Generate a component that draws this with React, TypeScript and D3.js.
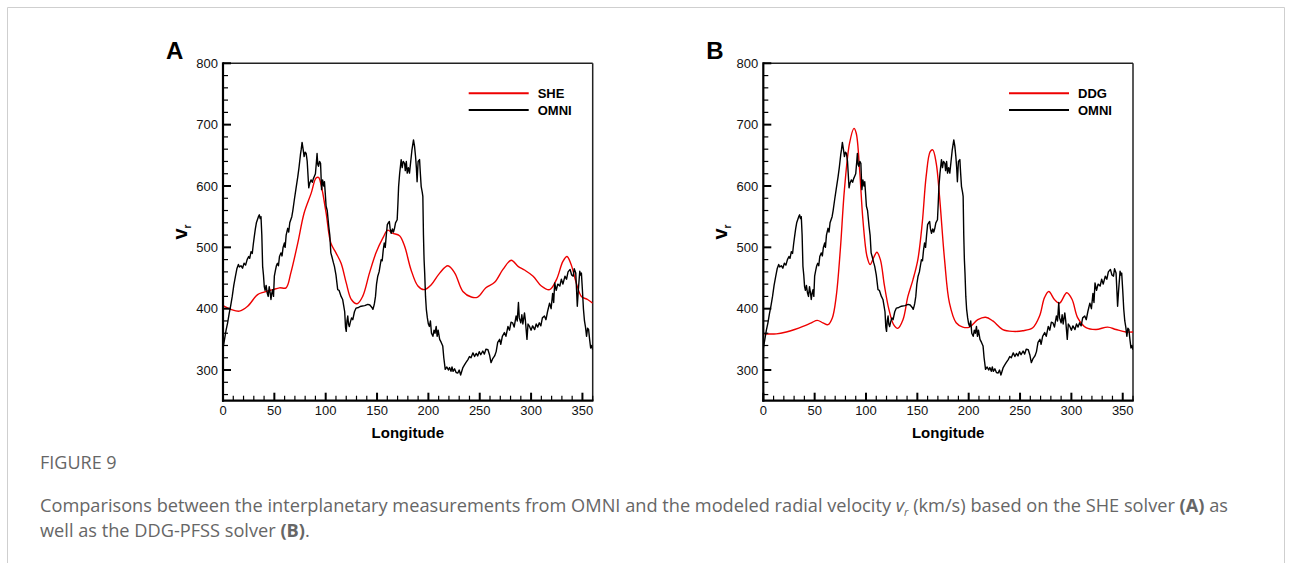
import React from "react";
import * as d3 from "d3";

// ---------------- DATA ----------------
const omniLon = [0,1.5,3,4.5,6,7.5,9,10.5,12,13.5,15,16,17.5,19,20.5,22,23.5,25,26,27.3,28.5,29.5,30.5,31.5,32.5,33.5,34.5,35.4,36.2,37,37.8,38.6,39.4,40.2,41,42,43,44,45,46,46.7,47.5,48.4,49.2,50,51,52,53,54,55,56.5,57.5,58.5,59.8,60.5,61.5,63,64,65,66,67,68,69.5,71,72.8,74,75.4,76.2,77,78,79,80,81,82,83.5,84.5,85.8,87,88,89,90,91,91.6,92.3,93,94,95,96,97,98,98.8,99.5,100.4,101.5,103,104,105,106,107.5,108.5,110,111.7,113,115,116.5,117.6,118.5,119.3,120,120.7,121.5,122.2,123,124,125.2,126.4,128,129.6,132,134.5,138,141,143,145,146,147,147.5,148.5,149.5,150.7,152,153,154,155,156,157,158,159,160,161,162,162.8,163.8,165,166,167,168,169.6,170.3,171,172,173.5,174.5,175.5,176.8,177.5,178.5,179.4,180.5,181.6,182.8,184,185.5,186.5,187.5,188.3,189,190,191.4,192.2,193,194,194.6,195.2,195.8,196.4,197.2,198,199,200,201,202,203,204.4,205.5,206.5,207.6,208.5,209.5,211,212.5,214,215,216.4,218,219.5,220.6,222,223,224,225.5,227,228.7,230,231.4,232.5,233.6,235,236.5,238.5,240,241.5,243.4,245,246.5,248,249.5,251,253,254.5,256,258,259.5,261,262.5,264.5,266,267.5,269.4,270.5,272,274,275.5,277.5,279,280.5,282,283.5,285.4,286.5,287.7,288.5,290,291,292,293.6,294.5,296,297,298.5,300,301.5,303.5,305,306.5,308,309.5,311,313,314.5,316,318,319.5,321,322,323,324.5,326,328,329.5,331,333,334.5,336,338,339.5,341,342,343.5,344.3,345,346,347.4,348.2,349,350,351,352,353,354,355,356,357,358,359,360];
const omniVr = [335,350,365,377,392,405,420,438,452,465,472,468,470,466,474,471,480,485,482,493,490,505,518,530,540,545,550,553,547,550,520,469,455,436,430,438,426,420,436,425,415,425,431,420,453,462,470,474,470,485,491,486,500,507,500,520,531,525,540,545,550,560,578,595,615,630,651,660,671,660,648,655,653,640,597,605,610,606,612,616,620,640,653,635,632,640,637,594,610,600,607,590,567,560,534,520,491,485,475,469,455,431,430,420,415,404,395,370,363,380,388,375,371,378,385,382,395,401,402,404,405,407,406,402,399,405,409,420,440,453,460,470,480,478,495,507,500,520,537,540,542,530,523,530,525,531,540,545,570,599,620,643,630,640,637,625,640,621,630,621,640,659,675,665,648,630,607,640,643,620,599,590,583,520,480,458,420,399,385,375,371,380,360,355,365,360,371,355,365,350,345,339,320,301,305,300,304,298,305,298,302,296,295,300,292,298,304,308,312,317,322,320,328,322,327,323,330,325,331,326,334,333,325,312,318,323,330,345,350,342,355,361,355,371,365,378,377,370,388,380,410,385,377,390,375,393,380,350,375,371,365,372,366,375,370,377,372,385,388,382,395,409,400,425,410,442,430,440,437,448,440,453,448,460,464,455,453,465,458,430,404,430,461,455,458,430,399,380,370,355,368,366,350,336,340,333];

const sheLon = [0,7.7,15.9,24,33.7,40,48.4,55,61.4,66,72.8,79,85.8,90.6,93,95.5,100.4,105,110,115,120,125,130.6,136,142.6,149,155.6,160.5,165,171.9,176.8,183,189.8,196,202.8,211,219,225.7,233.6,241.8,248,256,264.5,272.6,280.7,287.3,293.6,302,310,318,324.6,331,335,339,344,349,355,360];
const sheVr = [405,399,396,404,423,427,431,434,434,458,507,556,588,613,614,602,556,507,491,474,442,415,408,420,458,491,515,528,523,519,502,464,437,431,439,458,470,458,428,419,419,434,443,464,479,469,463,453,437,431,447,477,485,472,442,420,415,409];

const ddgLon = [0,12.7,22.4,30.5,38.6,46.8,52.6,58,63,67.2,71,75,79,84,88.3,90.5,93.8,97,101,104,107.4,110.6,114,118,122.3,126.9,131,136,140.8,145.7,150.5,154.8,158.6,162.5,165,168.4,171.6,176.5,181.3,187.8,194.3,200.8,208.9,216.4,223.5,233.2,243,252.7,262.4,269,273.8,278,283.5,288.4,295.5,300.7,306.2,314.3,324,335.4,343.5,353.2,360];
const ddgVr = [359,359,362,366,371,377,381,377,374,385,420,496,594,670,694,686,626,545,485,472,483,492,480,437,399,374,368,382,420,447,480,540,616,656,659,637,583,480,409,377,370,370,382,386,380,366,363,364,369,388,418,428,415,409,426,415,385,369,366,370,366,362,362];

const xTicks = [0, 50, 100, 150, 200, 250, 300, 350];
const yTicks = [300, 400, 500, 600, 700, 800];
const xDomain: [number, number] = [0, 360];
const yDomain: [number, number] = [250, 800];

// ---------------- STYLE ----------------
const RED = "#ee0000";
const AXIS_FONT = "'Liberation Sans', Arial, Helvetica, sans-serif";

type PanelProps = {
  left: number;
  letter: string;
  modelName: string;
  modelLon: number[];
  modelVr: number[];
};

function Panel({ left, letter, modelName, modelLon, modelVr }: PanelProps) {
  const top = 63.3;
  const bottom = 400.7;
  const right = left + 369.7;
  const x = d3.scaleLinear().domain(xDomain).range([left, right]);
  const y = d3.scaleLinear().domain(yDomain).range([bottom, top]);

  const omniLine = d3
    .line<number>()
    .x((_, i) => x(omniLon[i]))
    .y((d) => y(d));
  const modelLine = d3
    .line<number>()
    .x((_, i) => x(modelLon[i]))
    .y((d) => y(d))
    .curve(d3.curveCatmullRom.alpha(0.5));

  const xMinor = d3.range(0, 361, 10).filter((v) => v % 50 !== 0);
  const yMinor = d3.range(260, 800, 20).filter((v) => v % 100 !== 0);

  const clipId = `clip-${letter}`;
  const legX = right - 124;

  return (
    <g>
      <defs>
        <clipPath id={clipId}>
          <rect x={left} y={top} width={right - left} height={bottom - top} />
        </clipPath>
      </defs>
      <line x1={left} x2={right} y1={top} y2={top} stroke="#222" strokeWidth={1.5} />
      <line x1={right} x2={right} y1={top} y2={bottom} stroke="#222" strokeWidth={1.5} />

      <g clipPath={`url(#${clipId})`}>
        <path d={modelLine(modelVr) || ""} fill="none" stroke={RED} strokeWidth={1.4} />
        <path d={omniLine(omniVr) || ""} fill="none" stroke="#000" strokeWidth={1.4} strokeLinejoin="round" />
      </g>

      {/* y axis */}
      <line x1={left} x2={left} y1={top - 1} y2={bottom + 1} stroke="#000" strokeWidth={2.2} />
      {yTicks.map((t) => (
        <g key={`yt${t}`}>
          <line x1={left} x2={left + 8} y1={y(t)} y2={y(t)} stroke="#000" strokeWidth={2} />
          <text x={left - 5} y={y(t) + 4.6} textAnchor="end" fontFamily={AXIS_FONT} fontSize={13} fill="#111">
            {t}
          </text>
        </g>
      ))}
      {yMinor.map((t) => (
        <line key={`ym${t}`} x1={left} x2={left + 5} y1={y(t)} y2={y(t)} stroke="#000" strokeWidth={1.2} />
      ))}

      {/* x axis */}
      <line x1={left - 1} x2={right + 0.75} y1={bottom} y2={bottom} stroke="#000" strokeWidth={2.2} />
      {xTicks.map((t) => (
        <g key={`xt${t}`}>
          <line x1={x(t)} x2={x(t)} y1={bottom} y2={bottom - 8} stroke="#000" strokeWidth={2} />
          <text x={x(t)} y={bottom + 14.5} textAnchor="middle" fontFamily={AXIS_FONT} fontSize={13} fill="#111">
            {t}
          </text>
        </g>
      ))}
      {xMinor.map((t) => (
        <line key={`xm${t}`} x1={x(t)} x2={x(t)} y1={bottom} y2={bottom - 5} stroke="#000" strokeWidth={1.2} />
      ))}

      {/* axis titles */}
      <text
        x={(left + right) / 2}
        y={438}
        textAnchor="middle"
        fontFamily={AXIS_FONT}
        fontWeight="bold"
        fontSize={15}
        fill="#000"
      >
        Longitude
      </text>
      <text
        transform={`translate(${left - 36},${(top + bottom) / 2}) rotate(-90)`}
        textAnchor="middle"
        fontFamily={AXIS_FONT}
        fontWeight="bold"
        fontSize={20}
        fill="#000"
      >
        v
        <tspan fontSize={10} dy={4}>
          r
        </tspan>
      </text>
      <text x={left - 57} y={59} fontFamily={AXIS_FONT} fontWeight="bold" fontSize={24} fill="#000">
        {letter}
      </text>

      {/* legend */}
      <line x1={legX} x2={legX + 60} y1={93.3} y2={93.3} stroke={RED} strokeWidth={2} />
      <text x={legX + 69} y={98} fontFamily={AXIS_FONT} fontWeight="bold" fontSize={13} fill="#000">
        {modelName}
      </text>
      <line x1={legX} x2={legX + 60} y1={110} y2={110} stroke="#000" strokeWidth={2} />
      <text x={legX + 69} y={115} fontFamily={AXIS_FONT} fontWeight="bold" fontSize={13} fill="#000">
        OMNI
      </text>
    </g>
  );
}

export default function App() {
  const capFont = "'Open Sans', Lato, sans-serif";
  return (
    <svg
      width={1292}
      height={563}
      viewBox="0 0 1292 563"
      style={{ position: "absolute", left: 0, top: 0, background: "#fff" }}
    >
      <rect x={0} y={0} width={1292} height={563} fill="#fff" />
      <path d="M7.5,563 L7.5,7.5 L1284.5,7.5 L1284.5,563" fill="none" stroke="#cfcfcf" strokeWidth={1} />

      <Panel left={223} letter="A" modelName="SHE" modelLon={sheLon} modelVr={sheVr} />
      <Panel left={763.3} letter="B" modelName="DDG" modelLon={ddgLon} modelVr={ddgVr} />

      <text x={40} y={469} fontFamily={capFont} fontSize={18} fill="#666">
        FIGURE 9
      </text>
      <text x={40} y={512} fontFamily={capFont} fontSize={18.2} fill="#666">
        Comparisons between the interplanetary measurements from OMNI and the modeled radial velocity{" "}
        <tspan fontStyle="italic">v</tspan>
        <tspan fontStyle="italic" fontSize={11} dy={4}>r</tspan>
        <tspan dy={-4}> (km/s) based on the SHE solver </tspan>
        <tspan fontWeight="bold">(A)</tspan>
        <tspan> as</tspan>
      </text>
      <text x={40} y={537} fontFamily={capFont} fontSize={18.2} fill="#666">
        well as the DDG-PFSS solver <tspan fontWeight="bold">(B)</tspan>.
      </text>
    </svg>
  );
}
